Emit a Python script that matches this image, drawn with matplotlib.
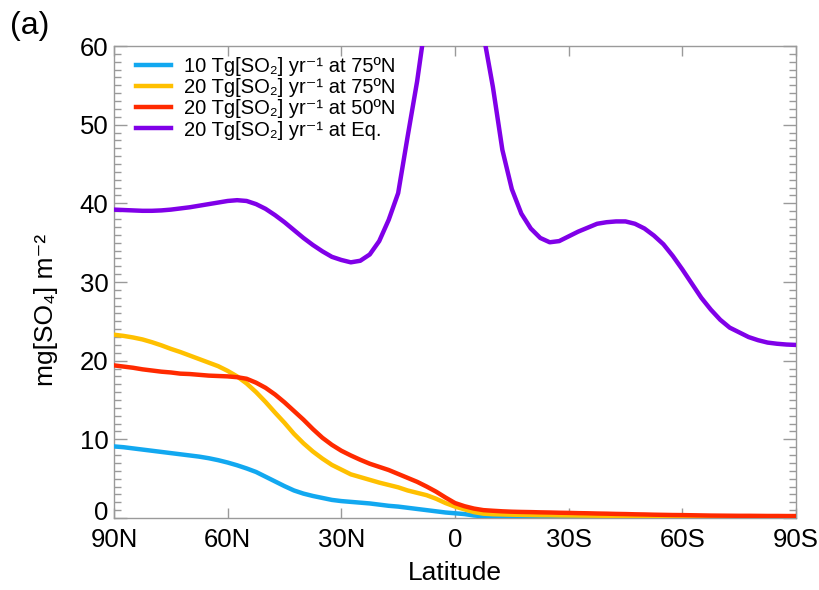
import matplotlib
matplotlib.use("Agg")
import matplotlib.pyplot as plt
import matplotlib.transforms as mtransforms

plt.rcParams['font.family'] = ['Liberation Sans', 'DejaVu Sans']

# Latitude grid (degrees, positive = N), 2.5 degree spacing
lat = [90, 87.5, 85, 82.5, 80, 77.5, 75, 72.5, 70, 67.5, 65, 62.5, 60, 57.5, 55, 52.5,
       50, 47.5, 45, 42.5, 40, 37.5, 35, 32.5, 30, 27.5, 25, 22.5, 20, 17.5, 15, 12.5,
       10, 7.5, 5, 2.5, 0, -2.5, -5, -7.5, -10, -12.5, -15, -17.5, -20, -22.5, -25,
       -27.5, -30, -32.5, -35, -37.5, -40, -42.5, -45, -47.5, -50, -52.5, -55, -57.5,
       -60, -62.5, -65, -67.5, -70, -72.5, -75, -77.5, -80, -82.5, -85, -87.5, -90]

blue_10tg_75n = [9.1, 9.0, 8.85, 8.7, 8.55, 8.4, 8.25, 8.1, 7.95, 7.8, 7.6, 7.35, 7.05, 6.7,
                 6.3, 5.85, 5.25, 4.65, 4.05, 3.5, 3.1, 2.8, 2.55, 2.3, 2.15, 2.05, 1.95,
                 1.85, 1.7, 1.55, 1.45, 1.3, 1.15, 1.0, 0.85, 0.7, 0.6, 0.5, 0.32, 0.22,
                 0.15, 0.11, 0.08, 0.07, 0.06, 0.05, 0.05, 0.05, 0.05, 0.05, 0.05, 0.05,
                 0.05, 0.05, 0.05, 0.05, 0.05, 0.05, 0.05, 0.05, 0.05, 0.05, 0.05, 0.05,
                 0.05, 0.05, 0.05, 0.05, 0.05, 0.05, 0.05, 0.05, 0.05]
yellow_20tg_75n = [23.3, 23.15, 22.95, 22.7, 22.35, 21.95, 21.5, 21.1, 20.65, 20.2, 19.75,
                   19.3, 18.7, 18.0, 17.1, 16.0, 14.75, 13.4, 12.1, 10.7, 9.5, 8.45, 7.55,
                   6.75, 6.15, 5.55, 5.2, 4.85, 4.5, 4.2, 3.9, 3.5, 3.2, 2.9, 2.45, 1.9,
                   1.45, 1.1, 0.75, 0.55, 0.48, 0.45, 0.42, 0.4, 0.38, 0.36, 0.35, 0.33,
                   0.32, 0.31, 0.3, 0.29, 0.28, 0.26, 0.25, 0.23, 0.22, 0.21, 0.2, 0.19,
                   0.18, 0.16, 0.15, 0.14, 0.14, 0.13, 0.13, 0.12, 0.12, 0.11, 0.11, 0.1,
                   0.1]
red_20tg_50n = [19.4, 19.25, 19.1, 18.9, 18.75, 18.6, 18.5, 18.35, 18.3, 18.2, 18.1, 18.05,
                18.0, 17.9, 17.7, 17.2, 16.55, 15.7, 14.7, 13.6, 12.5, 11.3, 10.2, 9.3,
                8.55, 7.95, 7.4, 6.9, 6.5, 6.1, 5.6, 5.1, 4.6, 4.0, 3.35, 2.6, 1.9, 1.5,
                1.2, 1.0, 0.92, 0.85, 0.8, 0.77, 0.75, 0.72, 0.7, 0.67, 0.65, 0.62, 0.6,
                0.57, 0.55, 0.52, 0.5, 0.47, 0.45, 0.42, 0.4, 0.38, 0.37, 0.35, 0.33, 0.31,
                0.3, 0.29, 0.28, 0.28, 0.27, 0.26, 0.26, 0.25, 0.25]
purple_20tg_eq = [39.2, 39.15, 39.1, 39.05, 39.05, 39.1, 39.2, 39.35, 39.5, 39.7, 39.9,
                  40.1, 40.3, 40.4, 40.3, 39.9, 39.3, 38.5, 37.6, 36.6, 35.6, 34.7, 33.9,
                  33.2, 32.8, 32.5, 32.7, 33.5, 35.2, 37.9, 41.3, 48.5, 55.5, 64.0, 78.0,
                  95.0, 105.0, 95.0, 78.0, 61.5, 54.8, 46.8, 41.8, 38.7, 36.8, 35.6, 35.05,
                  35.2, 35.8, 36.4, 36.9, 37.4, 37.6, 37.7, 37.7, 37.4, 36.8, 35.9, 34.8,
                  33.3, 31.6, 29.8, 28.0, 26.5, 25.2, 24.2, 23.6, 23.0, 22.6, 22.3, 22.15,
                  22.05, 22.0]

series_labels = ["10 Tg[SO₂] yr⁻¹ at 75ºN",
                 "20 Tg[SO₂] yr⁻¹ at 75ºN",
                 "20 Tg[SO₂] yr⁻¹ at 50ºN",
                 "20 Tg[SO₂] yr⁻¹ at Eq."]
colors = ['#12A8F0', '#FFC000', '#FF2A00', '#8000E8']

xtick_vals = [90, 60, 30, 0, -30, -60, -90]
xtick_labels = ['90N', '60N', '30N', '0', '30S', '60S', '90S']
ytick_vals = [0, 10, 20, 30, 40, 50, 60]

fig = plt.figure(figsize=(8.19, 5.90), dpi=100)
ax = fig.add_axes([114/819, 72/590, 682/819, 472/590])

lw = 3.2
ax.plot(lat, blue_10tg_75n, color=colors[0], lw=lw, label=series_labels[0], zorder=3)
ax.plot(lat, yellow_20tg_75n, color=colors[1], lw=lw, label=series_labels[1], zorder=4)
ax.plot(lat, red_20tg_50n, color=colors[2], lw=lw, label=series_labels[2], zorder=5)
ax.plot(lat, purple_20tg_eq, color=colors[3], lw=lw, label=series_labels[3], zorder=6)

ax.set_xlim(90, -90)
ax.set_ylim(0, 60)
ax.set_xticks(xtick_vals)
ax.set_xticklabels(xtick_labels)
ax.set_yticks(ytick_vals)
ax.set_yticks(range(0, 61), minor=True)

gray = '#9a9a9a'
for s in ax.spines.values():
    s.set_color(gray)
    s.set_linewidth(1.0)
ax.tick_params(axis='both', which='both', direction='in', colors=gray,
               labelcolor='black', labelsize=18.5, top=True, right=True)
ax.tick_params(axis='y', which='major', length=9.5, width=1.0, pad=4)
ax.tick_params(axis='y', which='minor', length=5, width=1.0)
ax.tick_params(axis='x', which='major', length=7.5, width=1.0, pad=7)
ax.tick_params(axis='x', which='minor', length=0)

# IDL-style: bottom y label sits above the axis corner
lab0 = ax.get_yticklabels()[0]
lab0.set_transform(lab0.get_transform() +
                   mtransforms.ScaledTranslation(0, 8/100, fig.dpi_scale_trans))

ax.set_xlabel('Latitude', fontsize=19, labelpad=7)
ax.set_ylabel('mg[SO₄] m⁻²', fontsize=19)
ax.yaxis.set_label_coords(-0.082, 0.44)

leg = ax.legend(loc='upper left', frameon=False, fontsize=14.5, handlelength=1.74,
                handletextpad=0.65, labelspacing=0.11, borderaxespad=0.0,
                borderpad=0.4, bbox_to_anchor=(0.0205, 0.994))

fig.text(10/819, 1 - 26/590, '(a)', fontsize=23, va='center', ha='left')

fig.savefig('out.png', dpi=100)
